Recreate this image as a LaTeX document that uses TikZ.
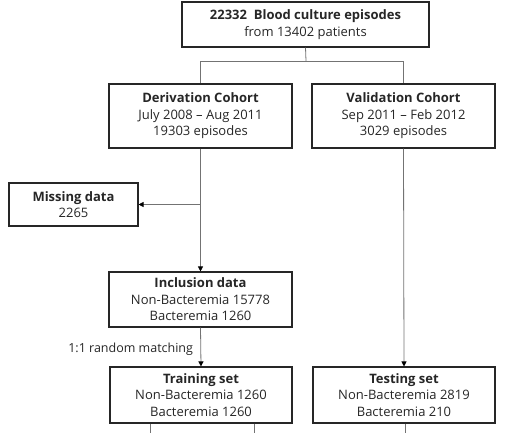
\documentclass[tikz,border=0pt]{standalone}
\usepackage{fontspec}
\setmainfont{Open Sans}
\usetikzlibrary{arrows.meta}

\tikzset{
  box/.style={draw=black!85, line width=1.1pt, align=center, inner sep=0pt,
    font=\fontsize{13}{16.5}\selectfont, text=black!85},
  link/.style={draw=black!55, line width=0.8pt},
  arr/.style={link, -{Triangle[length=5pt,width=5pt,fill=black,color=black]}},
  note/.style={font=\fontsize{12.5}{14}\selectfont, text=black!85},
}

\begin{document}
\begin{tikzpicture}[x=1pt, y=-1pt]
	\useasboundingbox (0,0) rectangle (521,433);

	% boxes
	\node[box, minimum width=247pt, minimum height=45pt] (episodes) at (305.5,24.5)
		{\textbf{22332\ \ Blood culture episodes}\\from 13402 patients};
	\node[box, minimum width=183pt, minimum height=64pt] (derivation) at (200.5,116)
		{\textbf{Derivation Cohort}\\July 2008 -- Aug 2011\\19303 episodes};
	\node[box, minimum width=183pt, minimum height=64pt] (validation) at (403.5,116)
		{\textbf{Validation Cohort}\\Sep 2011 -- Feb 2012\\3029 episodes};
	\node[box, minimum width=129pt, minimum height=43pt] (missing) at (73.5,204.5)
		{\textbf{Missing data}\\2265};
	\node[box, minimum width=183pt, minimum height=55pt] (inclusion) at (200.5,299.5)
		{\textbf{Inclusion data}\\Non-Bacteremia 15778\\Bacteremia 1260};
	\node[box, minimum width=182pt, minimum height=56pt] (training) at (201,395)
		{\textbf{Training set}\\Non-Bacteremia 1260\\Bacteremia 1260};
	\node[box, minimum width=182pt, minimum height=56pt] (testing) at (404,395)
		{\textbf{Testing set}\\Non-Bacteremia 2819\\Bacteremia 210};

	% split into cohorts
	\coordinate (split) at (306,61);
	\draw[link] (episodes.south) -- (split);
	\draw[link] (split) -| (derivation.north);
	\draw[link] (split) -| (validation.north);

	% flow
	\draw[arr] (derivation.south) -- (inclusion.north);
	\coordinate (drop) at (derivation.south |- missing.east);
	\draw[arr] (drop) -- (missing.east);
	\draw[arr] (inclusion.south) -- node[note, left, xshift=-4pt, yshift=-2pt] {1:1 random matching} (training.north);
	\draw[arr] (validation.south) -- (testing.north);

	% lines running off the bottom
	\coordinate (outA) at (150,433);
	\coordinate (outB) at (254,433);
	\coordinate (outC) at (405,433);
	\draw[link] (training.south -| outA) -- (outA);
	\draw[link] (training.south -| outB) -- (outB);
	\draw[link] (testing.south -| outC) -- (outC);
\end{tikzpicture}
\end{document}
